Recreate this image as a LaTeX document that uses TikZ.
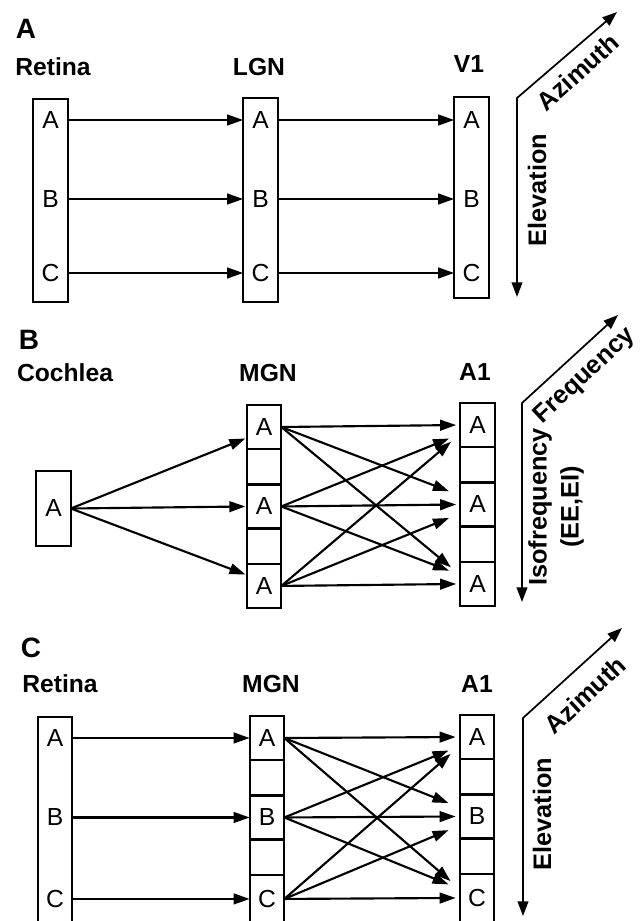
\documentclass[tikz,border=0pt]{standalone}
\usepackage{fontspec}
\setmainfont{Liberation Sans}
\usetikzlibrary{arrows.meta,positioning,calc}

\begin{document}
\begin{tikzpicture}[x=0.75pt, y=-0.75pt,
    lbl/.style={font=\bfseries\fontsize{18.5}{22}\selectfont, inner sep=0pt},
    panel/.style={font=\bfseries\fontsize{21}{24}\selectfont, inner sep=0pt},
    axlbl/.style={font=\bfseries\fontsize{19}{24}\selectfont, inner sep=0pt, align=center},
    frame/.style={draw, line width=1.6pt, minimum width=26pt, inner sep=0pt, outer sep=0pt},
    slot/.style={minimum width=26pt, inner sep=0pt, outer sep=0pt, font=\fontsize{18.5}{20}\selectfont},
    cell/.style={frame, slot},
    conn/.style={-{Triangle[length=12pt,width=8pt]}, line width=1.6pt},
    cross/.style={conn, shorten >=9pt},
    axis/.style={{Triangle[length=11pt,width=8pt]}-{Triangle[length=11pt,width=8pt]}, line width=1.3pt}]
  \clip (0,0) rectangle (641,921);

  % panel A
  \node[panel] (pA) at (26,29) {A};
  \node[lbl] (retlblA) at (53,67) {Retina};
  \node[lbl] (lgnlbl) at (259,67) {LGN};
  \node[lbl] (vonelbl) at (469,64) {V1};
  \node[frame, minimum height=152pt] (retbox) at (50.5,200.5) {};
  \node[frame, minimum height=153pt] (lgnbox) at (260.5,200) {};
  \node[frame, minimum height=151pt] (vonebox) at (471.5,197.5) {};
  \foreach \r/\y in {A/120,B/199,C/273} {
    \node[slot] (ret\r) at (50.5,\y) {\r};
    \node[slot] (lgn\r) at (260.5,\y) {\r};
    \node[slot] (vone\r) at (471.5,\y) {\r};
    \draw[conn] (ret\r.east) -- (lgn\r.west);
    \draw[conn] (lgn\r.east) -- (vone\r.west);
  }
  \coordinate (cnrA) at (517,98);
  \coordinate (azA) at (617,12);
  \coordinate (elA) at (517,297);
  \draw[axis] (azA) -- (cnrA) -- (elA);
  \node[axlbl, rotate=42] (azlblA) at (578,72) {Azimuth};
  \node[axlbl, rotate=90] (ellblA) at (537,190) {Elevation};

  % panel B
  \node[panel] (pB) at (29,340) {B};
  \node[lbl] (cochlbl) at (65,373) {Cochlea};
  \node[lbl] (mgnlblB) at (268,373) {MGN};
  \node[lbl] (aonelblB) at (475,372) {A1};
  \node[cell, minimum height=56pt] (cochA) at (53.5,508.5) {A};

  % panel C
  \node[panel] (pC) at (31,648) {C};
  \node[lbl] (retlblC) at (60,684) {Retina};
  \node[lbl] (mgnlblC) at (271,684) {MGN};
  \node[lbl] (aonelblC) at (477,684) {A1};
  \node[frame, minimum height=170pt, anchor=north] (retCbox) at (55,717) {};

  % MGN and A1 strips
  \foreach \col/\x/\top/\p/\q/\r/\h in {mgnB/264/405/A/A/A/33pt, aoneB/477.5/403/A/A/A/33pt,
      mgnC/267/716/A/B/C/36pt, aoneC/477/715/A/B/C/36pt} {
    \node[cell, minimum height=33pt, anchor=north] (\col1) at (\x,\top) {\p};
    \node[cell, minimum height=26.6pt, below=0pt of \col1] (\col2) {};
    \node[cell, minimum height=33pt, below=0pt of \col2] (\col3) {\q};
    \node[cell, minimum height=26.6pt, below=0pt of \col3] (\col4) {};
    \node[cell, minimum height=\h, below=0pt of \col4] (\col5) {\r};
  }

  \foreach \t/\off in {1/11,3/0,5/-11}
    \draw[conn, shorten >=1pt] (cochA.east) -- ($(mgnB\t.west)+(0,\off)$);
  \foreach \r/\i in {A/1,B/3,C/5} {
    \node[slot] (retC\r) at (55,0 |- mgnC\i) {\r};
    \draw[conn] (retC\r.east) -- (mgnC\i.west);
  }
  \foreach \p in {B,C} {
    \foreach \s in {1,3,5} {
      \foreach \t in {1,3,5} {
        \ifnum\s=\t
          \draw[conn, shorten >=3pt] (mgn\p\s.east) -- (aone\p\t.west);
        \else
          \pgfmathsetmacro\off{\s<\t ? -9 : 9}
          \draw[cross] (mgn\p\s.east) -- ($(aone\p\t.west)+(0,\off)$);
        \fi
      }
    }
  }

  \coordinate (cnrB) at (522,403);
  \coordinate (freqB) at (618,315);
  \coordinate (isoB) at (522,602);
  \draw[axis] (freqB) -- (cnrB) -- (isoB);
  \node[axlbl, rotate=43] (freqlbl) at (585,376) {Frequency};
  \node[axlbl, rotate=90] (isolbl) at (556,507) {Isofrequency\\(EE,EI)};

  \coordinate (cnrC) at (523,718);
  \coordinate (azC) at (622,628);
  \coordinate (elC) at (523,916);
  \draw[axis] (azC) -- (cnrC) -- (elC);
  \node[axlbl, rotate=43] (azlblC) at (585,695) {Azimuth};
  \node[axlbl, rotate=90] (ellblC) at (542,814) {Elevation};
\end{tikzpicture}
\end{document}
